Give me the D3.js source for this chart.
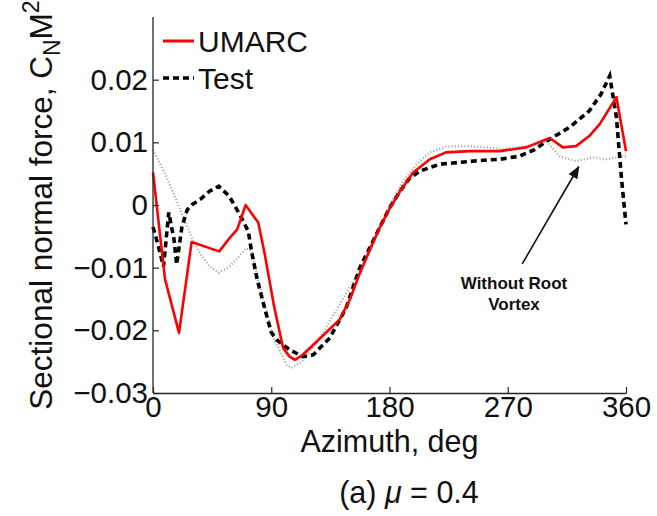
<!DOCTYPE html>
<html>
<head>
<meta charset="utf-8">
<script src="https://cdn.jsdelivr.net/npm/d3@7"></script>
<style>
  html, body { margin: 0; padding: 0; background: #fff; }
  svg { display: block; font-family: "Liberation Sans", Arial, sans-serif; }
</style>
</head>
<body>
<svg id="chart" width="657" height="516"></svg>
<script>
// ---- data ----
const xTicks = [0, 90, 180, 270, 360];
const yTicks = [0.02, 0.01, 0, -0.01, -0.02, -0.03];

const umarcAz = [0, 9.1, 19.8, 29.4, 50.4, 58.6, 64.1, 70.5, 80.1, 85, 92, 99, 104, 108, 114, 128, 142, 150, 157, 165, 172.6, 180, 188, 198, 210.7, 223, 241, 264, 284, 302, 312, 322, 332, 340, 352.7, 360];
const umarcCn = [0.0052, -0.0118, -0.0204, -0.0059, -0.0074, -0.0052, -0.0039, 0.0000, -0.0028, -0.0078, -0.0160, -0.0228, -0.0242, -0.0247, -0.0239, -0.0211, -0.0183, -0.0150, -0.0111, -0.0072, -0.0036, -0.0006, 0.0022, 0.0052, 0.0073, 0.0084, 0.0086, 0.0086, 0.0092, 0.0107, 0.0092, 0.0094, 0.0110, 0.0129, 0.0172, 0.0086];

const testAz = [0, 4, 8, 12, 16, 18, 22, 26, 30, 36, 43, 50, 58, 66, 72.5, 75, 79, 85, 90, 94, 104, 114, 122, 134.6, 147, 157.4, 165, 173, 180, 188, 195, 203, 218, 233.5, 248.7, 264, 279, 290, 302, 317, 332, 341, 347.6, 352.7, 356.5, 360];
const testCn = [-0.0035, -0.0065, -0.0098, -0.0012, -0.0055, -0.0095, -0.0035, -0.0008, 0.0001, 0.0009, 0.0022, 0.0030, 0.0014, -0.0015, -0.0042, -0.0074, -0.0116, -0.0165, -0.0203, -0.0215, -0.0231, -0.0242, -0.0239, -0.0212, -0.0164, -0.0100, -0.0068, -0.0034, -0.0005, 0.0022, 0.0042, 0.0054, 0.0065, 0.0068, 0.0071, 0.0073, 0.0078, 0.0088, 0.0105, 0.0124, 0.0150, 0.0177, 0.0206, 0.0140, 0.0044, -0.0031];

const noRootAz = [0, 8, 15, 23, 30, 36, 43, 50, 58, 65, 71, 75, 81, 91.5, 101.7, 105.5, 113, 127, 142, 157, 172, 180, 190.4, 200.6, 210.7, 223, 238.6, 253.8, 266.4, 274, 287, 299.4, 309.5, 322, 335, 345, 360];
const noRootCn = [0.0088, 0.0055, 0.0022, -0.0019, -0.0054, -0.0078, -0.0098, -0.0108, -0.0099, -0.0083, -0.0069, -0.0072, -0.0127, -0.0212, -0.0255, -0.0260, -0.0250, -0.0212, -0.0159, -0.0105, -0.0038, 0.0000, 0.0038, 0.0065, 0.0084, 0.0093, 0.0094, 0.0092, 0.0089, 0.0091, 0.0095, 0.0102, 0.0078, 0.0070, 0.0076, 0.0073, 0.0078];

const seriesNames = ["UMARC", "Test"];

// ---- drawing ----
const svg = d3.select("#chart");
svg.append("rect").attr("width", 657).attr("height", 516).attr("fill", "#fff");

const pLeft = 153, pRight = 626, pTop = 17, pBottom = 393;
const x = d3.scaleLinear().domain([0, 360]).range([pLeft, pRight]);
const y = d3.scaleLinear().domain([-0.03, 0.03]).range([pBottom, pTop]);

const fmtY = v => v === 0 ? "0" : d3.format(".2f")(v);

const line = d3.line().x(d => x(d[0])).y(d => y(d[1]));

const zip = (a, b) => a.map((v, i) => [v, b[i]]);

// no root vortex (gray dotted)
svg.append("path").datum(zip(noRootAz, noRootCn))
  .attr("d", line).attr("fill", "none")
  .attr("stroke", "#9a9a9a").attr("stroke-width", 2.2)
  .attr("stroke-dasharray", "1,2.2");

// Test (black dashed)
svg.append("path").datum(zip(testAz, testCn))
  .attr("d", line).attr("fill", "none")
  .attr("stroke", "#000").attr("stroke-width", 3.6)
  .attr("stroke-dasharray", "6,4");

// UMARC (red solid)
svg.append("path").datum(zip(umarcAz, umarcCn))
  .attr("d", line).attr("fill", "none")
  .attr("stroke", "#ff0000").attr("stroke-width", 2.6)
  .attr("stroke-linejoin", "round");

// axes
const axisColor = "#262626";
const gx = svg.append("g").attr("transform", `translate(0,${pBottom})`)
  .call(d3.axisBottom(x).tickValues(xTicks).tickSizeInner(-6).tickSizeOuter(0).tickPadding(3));
const gy = svg.append("g").attr("transform", `translate(${pLeft},0)`)
  .call(d3.axisLeft(y).tickValues(yTicks).tickFormat(fmtY).tickSizeInner(-6).tickSizeOuter(0).tickPadding(5));
[gx, gy].forEach(g => {
  g.select(".domain").attr("stroke", axisColor).attr("stroke-width", 1.3);
  g.selectAll(".tick line").attr("stroke", axisColor).attr("stroke-width", 1.2);
  g.selectAll(".tick text").attr("fill", "#111").attr("font-size", 29.5)
    .attr("font-family", "'Liberation Sans', Arial, sans-serif");
});
// y axis line extends to top of plot (0.03)
gy.select(".domain").attr("d", `M0,${pTop}V${pBottom}`);

// axis titles
svg.append("text").attr("x", (pLeft + pRight) / 2).attr("y", 452)
  .attr("text-anchor", "middle").attr("font-size", 30.5).attr("fill", "#111")
  .text("Azimuth, deg");

const yl = svg.append("text")
  .attr("transform", `translate(52,${(pTop + pBottom) / 2}) rotate(-90)`)
  .attr("text-anchor", "middle").attr("font-size", 31.5).attr("fill", "#111");
yl.append("tspan").text("Sectional normal force, C");
yl.append("tspan").attr("font-size", 23).attr("dy", 8).text("N");
yl.append("tspan").attr("dy", -8).text("M");
yl.append("tspan").attr("font-size", 23).attr("dy", -13).text("2");

// caption
const cap = svg.append("text").attr("x", 409).attr("y", 503)
  .attr("text-anchor", "middle").attr("font-size", 30.5).attr("fill", "#111");
cap.append("tspan").text("(a) ");
cap.append("tspan").attr("font-style", "italic").text("\u03bc");
cap.append("tspan").text(" = 0.4");

// legend
const legendY = [41, 78];
const legendStyles = [
  { stroke: "#ff0000", width: 3, dash: null },
  { stroke: "#000", width: 3.6, dash: "6,4" }
];
seriesNames.forEach((name, i) => {
  svg.append("line").attr("x1", 163).attr("x2", 194)
    .attr("y1", legendY[i]).attr("y2", legendY[i])
    .attr("stroke", legendStyles[i].stroke).attr("stroke-width", legendStyles[i].width)
    .attr("stroke-dasharray", legendStyles[i].dash);
  svg.append("text").attr("x", 198).attr("y", legendY[i] + 11)
    .attr("font-size", 30).attr("fill", "#111").text(name);
});

// annotation
svg.append("defs").append("marker").attr("id", "ah")
  .attr("viewBox", "0 0 10 10").attr("refX", 9).attr("refY", 5)
  .attr("markerWidth", 8).attr("markerHeight", 8).attr("orient", "auto")
  .append("path").attr("d", "M0,1 L10,5 L0,9 Z").attr("fill", "#111");
svg.append("line").attr("x1", x(281)).attr("y1", y(-0.0094))
  .attr("x2", x(324)).attr("y2", y(0.0061))
  .attr("stroke", "#111").attr("stroke-width", 1.6).attr("marker-end", "url(#ah)");
const ann = svg.append("text").attr("text-anchor", "middle")
  .attr("font-size", 17).attr("font-weight", "bold").attr("fill", "#111");
ann.append("tspan").attr("x", 514).attr("y", 289).text("Without Root");
ann.append("tspan").attr("x", 514).attr("y", 310).text("Vortex");
</script>
</body>
</html>
